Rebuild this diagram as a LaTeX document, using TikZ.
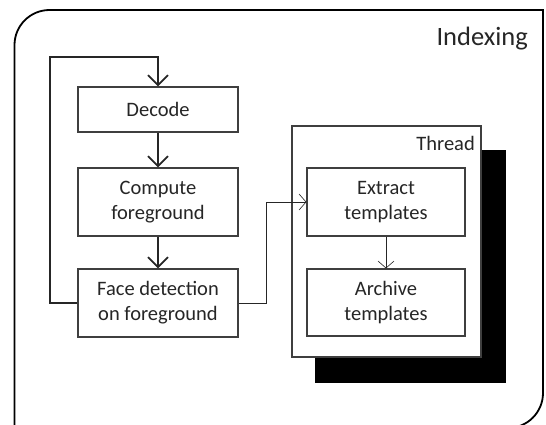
\documentclass[tikz,border=0pt]{standalone}
\usepackage{fontspec}
\setmainfont{Carlito}
\usetikzlibrary{arrows.meta}
\definecolor{ink}{HTML}{262626}
\definecolor{boxline}{HTML}{3F3F3F}
\tikzset{
  procbox/.style={draw=boxline, line width=1.1pt, fill=white, text=ink,
    minimum width=160pt, align=center,
    font=\fontsize{20.5}{25}\selectfont, inner sep=0pt},
  flowarrow/.style={draw=ink, line width=1.8pt,
    -{Straight Barb[length=10pt,width=20pt,line width=1.8pt]}},
  thinarrow/.style={draw=ink, line width=0.8pt,
    -{Straight Barb[length=7pt,width=16pt,line width=0.6pt]}},
  label/.style={text=ink, inner sep=0pt}
}
\begin{document}
\begin{tikzpicture}[x=1pt, y=-1pt]
  \useasboundingbox (0,0) rectangle (546,424);

  % outer frame: rounded top-left and bottom-right corners
  \draw[line width=1.8pt, black]
    (14.5,430) -- (14.5,45)
    .. controls (14.5,25.7) and (30.2,10) .. (49.5,10)
    -- (543,10) -- (543,393)
    .. controls (543,412.3) and (527.3,428) .. (508,428)
    -- cycle;
  \node[label, anchor=base east, font=\fontsize{26.5}{30}\selectfont]
    (indexing) at (528,45) {Indexing};

  % thread box with its drop shadow
  \fill[black] (315,150) rectangle (506,383);
  \draw[draw=boxline, line width=1.1pt, fill=white] (292,126) rectangle (481,357);
  \node[label, anchor=base east, font=\fontsize{20.5}{25}\selectfont]
    (thread) at (475,150) {Thread};

  % main loop stages
  \node[procbox, minimum height=45pt] (decode) at (158,109.5) {Decode};
  \node[procbox, minimum height=68pt] (compute) at (158,202) {Compute\\foreground};
  \node[procbox, minimum height=68pt] (face) at (158,303) {Face detection\\on foreground};

  % thread stages
  \node[procbox, minimum width=158pt, minimum height=68pt] (extract) at (386,202) {Extract\\templates};
  \node[procbox, minimum width=158pt, minimum height=67pt] (archive) at (386,302.5) {Archive\\templates};

  % connectors
  \coordinate (loopcorner) at (50,57);
  \coordinate (jogtop) at (266,202);
  \draw[flowarrow] (decode) -- (compute);
  \draw[flowarrow] (compute) -- (face);
  \draw[flowarrow] (face.west) -| (loopcorner) -| (decode.north);
  \draw[thinarrow] (face.east) -| (jogtop) -- (extract.west);
  \draw[thinarrow] (extract) -- (archive);
\end{tikzpicture}
\end{document}
